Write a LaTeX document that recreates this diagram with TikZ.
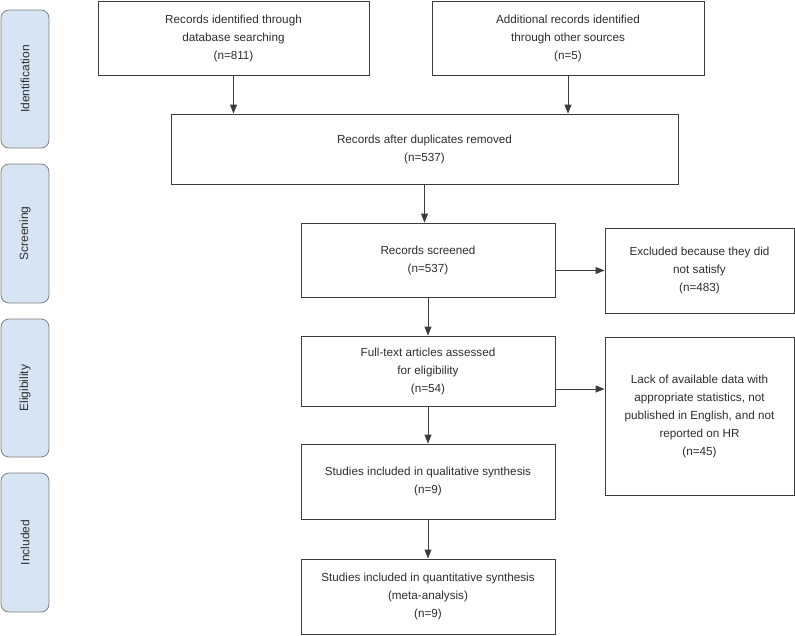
\documentclass[tikz,border=0pt]{standalone}
\usepackage{fontspec}
\setmainfont{Liberation Sans}
\usepackage{tikz}
\usepackage{xcolor}
\usetikzlibrary{arrows.meta}
\definecolor{phase-fill}{HTML}{D6E4F4}
\definecolor{phase-line}{HTML}{808080}
\definecolor{box-line}{HTML}{3C3C3C}
\definecolor{box-text}{HTML}{2E2E2E}
\tikzset{
    flow-box/.style = {draw=box-line, fill=white, line width=0.9pt, rectangle, align=center, text=box-text, font=\fontsize{11.7}{18}\selectfont, inner sep=0pt},
    phase-box/.style = {draw=phase-line, fill=phase-fill, line width=0.8pt, rectangle, rounded corners=8pt, minimum width=48pt, text=box-text, font=\fontsize{12}{14}\selectfont, inner sep=0pt},
    flow-arrow/.style = {draw=box-line, line width=0.9pt, -{Triangle[length=9pt, width=7pt]}},
}

\begin{document}
\begin{tikzpicture}[x=1pt, y=-1pt]
\useasboundingbox (0,0) rectangle (795,635);
% phases on the left
\node [phase-box, minimum height=138pt] (ident) at (25,79) {\rotatebox{90}{Identification}};
\node [phase-box, minimum height=139pt] (screen) at (25,233.5) {\rotatebox{90}{Screening}};
\node [phase-box, minimum height=138pt] (elig) at (25,388) {\rotatebox{90}{Eligibility}};
\node [phase-box, minimum height=139pt] (incl) at (25,542.5) {\rotatebox{90}{Included}};

% flow boxes
\node [flow-box, minimum width=271pt, minimum height=74pt] (rec-db) at (233.5,38) {Records identified through\\database searching\\(n=811)};
\node [flow-box, minimum width=272pt, minimum height=74pt] (rec-other) at (568,38) {Additional records identified\\through other sources\\(n=5)};
\node [flow-box, minimum width=507pt, minimum height=70pt] (rec-dup) at (424.5,149) {Records after duplicates removed\\(n=537)};
\node [flow-box, minimum width=254pt, minimum height=74pt] (rec-screen) at (428,260) {Records screened\\(n=537)};
\node [flow-box, minimum width=189pt, minimum height=85pt] (excl-screen) at (699.5,270.5) {Excluded because they did\\not satisfy\\(n=483)};
\node [flow-box, minimum width=254pt, minimum height=70pt] (full-text) at (428,371) {Full-text articles assessed\\for eligibility\\(n=54)};
\node [flow-box, minimum width=189pt, minimum height=158pt] (excl-full) at (699.5,416) {Lack of available data with\\appropriate statistics, not\\published in English, and not\\reported on HR\\(n=45)};
\node [flow-box, minimum width=254pt, minimum height=75pt] (qual) at (428,481.5) {Studies included in qualitative synthesis\\(n=9)};
\node [flow-box, minimum width=254pt, minimum height=75pt] (quant) at (428,596.5) {Studies included in quantitative synthesis\\(meta-analysis)\\(n=9)};

% arrows
\draw [flow-arrow] (rec-db.south) -- (rec-db.south |- rec-dup.north);
\draw [flow-arrow] (rec-other.south) -- (rec-other.south |- rec-dup.north);
\draw [flow-arrow] (rec-dup.south) -- (rec-dup.south |- rec-screen.north);
\draw [flow-arrow] (rec-screen.east |- excl-screen.west) -- (excl-screen.west);
\draw [flow-arrow] (rec-screen.south) -- (full-text.north);
\draw [flow-arrow] ([yshift=-18pt]full-text.east) -- ([yshift=-18pt]full-text.east -| excl-full.west);
\draw [flow-arrow] (full-text.south) -- (qual.north);
\draw [flow-arrow] (qual.south) -- (quant.north);
\end{tikzpicture}
\end{document}
